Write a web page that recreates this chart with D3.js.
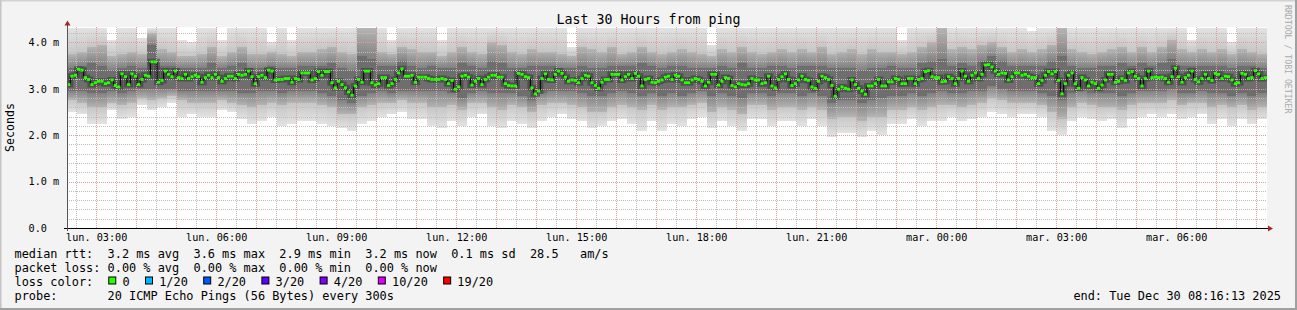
<!DOCTYPE html>
<html>
<head>
<meta charset="utf-8">
<script src="https://cdn.jsdelivr.net/npm/d3@7"></script>
<style>
body { margin: 0; background: #f3f3f3; }
text { font-family: "DejaVu Sans Mono", monospace; fill: #000; white-space: pre; }
</style>
</head>
<body>
<svg id="chart" width="1297" height="310"></svg>
<script>
// ---- data ----
var title = "Last 30 Hours from ping"
var yTitle = "Seconds"
var watermark = "RRDTOOL / TOBI OETIKER"
var endTime = new Date(2025, 11, 30, 8, 16, 13)
var spanHours = 30
var stepSec = 300          // one median every 5 min
var smokeStepSec = 900     // smoke read every 15 min

// median rtt in ms, one per step
var median = [
 3.09,3.27,3.29,3.42,3.40,3.24,3.20,3.09,3.13,3.16, 3.16,3.11,3.13,3.19,3.07,3.04,3.32,3.26,3.09,3.32,
 3.27,3.09,3.20,3.29,3.27,3.58,3.58,3.14,3.18,3.38, 3.31,3.26,3.38,3.24,3.22,3.31,3.22,3.26,3.29,3.26,
 3.14,3.24,3.29,3.24,3.31,3.24,3.16,3.22,3.27,3.27, 3.22,3.31,3.29,3.31,3.38,3.26,3.11,3.26,3.29,3.24,
 3.40,3.38,3.19,3.20,3.20,3.22,3.22,3.14,3.22,3.20, 3.34,3.34,
 3.34,3.19,3.22,3.37,3.29,3.37,3.37,3.13,3.02,3.16, 3.09,3.02,2.93,2.86,3.06,3.20,3.14,3.38,3.38,3.13,
 3.08,3.11,3.24,3.24,3.07,3.11,3.20,3.34,3.43,3.27, 3.27,3.29,3.14,3.25,3.25,3.25,3.22,3.20,3.20,3.20,
 3.22,3.20,3.11,3.18,2.99,3.04,3.27,3.29,3.25,3.08, 3.16,3.22,3.09,3.20,3.25,3.29,3.29,3.25,3.25,3.11,
 3.07,3.06,3.06,3.33,3.31,3.26,3.24,3.02,2.89,2.95, 3.22,3.32,
 3.20,3.19,3.31,3.38,3.33,3.25,3.16,3.19,3.18,3.13, 3.22,3.29,3.27,3.13,3.07,3.01,3.14,3.20,3.20,3.31,
 3.31,3.31,3.19,3.26,3.31,3.22,3.33,3.27,3.06,3.20, 3.22,3.14,3.13,3.16,3.19,3.25,3.27,3.20,3.29,3.27,
 3.19,3.13,3.13,3.19,3.22,3.20,3.16,3.06,3.14,3.31, 3.31,3.08,3.16,3.24,3.22,3.07,3.04,3.11,3.09,3.08,
 3.11,3.22,3.19,3.19,3.11,3.13,3.27,3.06,3.02,3.20, 3.26,3.32,
 3.20,3.07,3.11,3.19,3.27,3.20,3.18,3.04,3.01,3.16, 3.27,3.24,3.20,3.07,2.84,2.99,3.04,3.01,2.99,3.19,
 3.09,3.01,2.95,2.88,3.06,3.06,3.11,3.20,3.06,3.06, 3.15,3.15,3.22,3.20,3.11,3.11,3.22,3.22,3.11,3.20,
 3.22,3.37,3.39,3.26,3.24,3.24,3.15,3.16,3.26,3.22, 3.11,3.22,3.38,3.27,3.16,3.29,3.34,3.22,3.31,3.51,
 3.52,3.47,3.38,3.31,3.34,3.33,3.19,3.26,3.34,3.34, 3.29,3.31,
 3.27,3.24,3.24,3.11,3.18,3.29,3.37,3.32,3.37,3.18, 2.89,3.11,3.29,3.34,3.11,3.01,3.24,3.19,3.06,3.14,
 3.11,3.01,3.08,3.19,3.31,3.31,3.14,3.16,3.22,3.18, 3.34,3.37,3.27,3.22,3.06,3.22,3.38,3.24,3.25,3.24,
 3.25,3.22,3.14,3.26,3.44,3.26,3.14,3.24,3.29,3.38, 3.20,3.15,3.22,3.31,3.22,3.18,3.33,3.31,3.22,3.27,
 3.26,3.19,3.11,3.13,3.33,3.31,3.22,3.24,3.39,3.32, 3.22,3.24
]

// smoke band edges in ms (outer light band hi/lo, middle band h2/l2, dark band h3/l3)
var smokeHi = [
 4.3,4.3,4.3,4.3,4.05,4.3,4.3,4.1,4.3,4.3,4.3,4.05,4.0,4.3,4.3,4.05,4.3,4.3,4.3,4.3,4.0,4.3,4.05,4.3,
 4.3,4.3,4.3,4.3,4.3,4.3,4.3,4.3,4.05,4.3,4.3,4.3,4.3,4.05,4.3,4.3,4.3,4.3,4.3,4.3,4.3,4.3,4.3,4.3,
 4.3,4.3,3.9,4.3,4.3,4.3,4.3,4.3,4.3,4.3,4.3,4.3,4.3,4.3,4.3,4.3,3.95,4.3,4.3,4.3,4.3,4.3,4.3,4.3,
 4.3,4.3,4.3,4.3,4.3,4.3,4.3,4.3,4.3,4.3,4.3,4.05,4.3,4.3,4.3,4.3,4.3,4.3,4.3,4.3,4.3,4.3,4.3,4.3,
 4.25,4.3,4.3,4.3,4.3,4.3,4.3,4.3,4.3,4.3,4.3,4.3,4.3,4.3,4.3,4.3,4.05,4.3,4.3,4.3,4.0,4.3,4.3,4.3
]
var smokeH2 = [
 3.75,3.8,3.9,3.95,3.7,3.75,3.8,3.75,4.2,3.85,3.8,3.7,3.7,3.75,3.9,3.7,3.8,3.9,3.75,3.75,3.8,3.75,3.7,3.8,
 3.8,3.85,3.9,3.8,3.75,4.3,4.3,3.8,3.75,3.9,3.85,3.8,3.8,3.7,3.8,3.9,3.8,3.75,4.0,3.95,3.8,3.75,3.85,3.8,
 3.8,3.75,3.7,3.9,3.85,3.8,3.9,3.75,3.8,3.9,3.8,3.75,3.8,3.85,3.8,3.75,3.7,3.85,3.8,3.9,3.8,3.75,3.8,3.85,
 3.8,3.85,3.8,3.9,3.75,3.8,3.85,3.75,3.85,3.8,3.8,3.75,3.8,3.9,4.0,4.3,3.85,3.9,3.85,3.95,4.0,3.9,3.8,3.85,
 3.8,3.85,3.95,4.3,3.85,3.8,3.75,3.8,3.85,3.9,3.8,3.9,3.8,3.9,4.05,3.85,3.8,3.85,3.8,3.85,3.75,3.85,3.8,3.75
]
var smokeH3 = [
 3.45,3.5,3.55,3.5,3.4,3.45,3.5,3.45,3.95,3.5,3.5,3.45,3.45,3.45,3.55,3.45,3.5,3.55,3.45,3.45,3.5,3.45,3.45,3.5,
 3.5,3.5,3.55,3.45,3.4,3.7,3.65,3.5,3.5,3.6,3.5,3.45,3.5,3.45,3.45,3.55,3.5,3.45,3.6,3.55,3.45,3.45,3.5,3.5,
 3.5,3.45,3.45,3.5,3.45,3.45,3.5,3.5,3.5,3.55,3.5,3.45,3.5,3.5,3.45,3.45,3.45,3.5,3.45,3.55,3.45,3.45,3.5,3.5,
 3.45,3.5,3.5,3.5,3.45,3.45,3.45,3.4,3.45,3.45,3.5,3.45,3.45,3.55,3.6,3.65,3.5,3.55,3.5,3.6,3.7,3.6,3.5,3.5,
 3.5,3.5,3.6,3.7,3.5,3.45,3.45,3.5,3.5,3.55,3.5,3.55,3.5,3.55,3.65,3.5,3.5,3.5,3.5,3.5,3.45,3.5,3.5,3.45
]
var smokeL3 = [
 2.95,2.95,2.9,2.9,2.95,2.9,2.95,3.0,3.0,3.0,3.0,2.95,2.95,2.95,2.95,2.95,2.95,2.9,2.9,2.95,2.95,2.9,2.95,2.95,
 2.95,2.9,2.85,2.75,2.7,2.85,2.9,2.95,2.9,2.95,2.95,2.95,2.95,2.95,2.9,2.8,2.9,2.95,2.9,2.9,2.9,2.85,2.75,2.9,
 2.95,2.95,2.95,2.9,2.85,2.85,2.9,2.95,2.9,2.85,2.9,2.85,2.9,2.85,2.9,2.95,2.85,2.9,2.85,2.8,2.9,2.9,2.85,2.9,
 2.9,2.85,2.9,2.85,2.7,2.75,2.75,2.7,2.75,2.8,2.85,2.85,2.9,2.85,2.9,2.95,2.9,2.9,2.95,2.95,3.05,3.0,2.95,2.95,
 2.95,2.9,2.85,2.75,2.9,2.95,2.9,2.9,2.9,2.85,2.9,2.95,2.95,2.95,3.0,2.9,2.9,2.95,2.9,2.9,2.85,2.9,2.85,2.9
]
var smokeL2 = [
 2.75,2.7,2.6,2.6,2.7,2.65,2.7,2.8,2.75,2.8,2.85,2.75,2.7,2.7,2.7,2.75,2.7,2.65,2.6,2.65,2.7,2.65,2.7,2.7,
 2.7,2.65,2.6,2.45,2.45,2.6,2.65,2.7,2.7,2.75,2.7,2.7,2.6,2.6,2.65,2.55,2.7,2.7,2.6,2.55,2.65,2.6,2.5,2.65,
 2.7,2.7,2.65,2.6,2.5,2.5,2.6,2.65,2.6,2.55,2.65,2.55,2.6,2.6,2.65,2.7,2.5,2.6,2.55,2.45,2.65,2.65,2.55,2.6,
 2.6,2.55,2.6,2.55,2.35,2.4,2.4,2.3,2.4,2.4,2.55,2.55,2.6,2.55,2.6,2.65,2.65,2.6,2.65,2.7,2.8,2.75,2.7,2.7,
 2.7,2.65,2.5,2.35,2.6,2.7,2.65,2.6,2.6,2.55,2.65,2.7,2.7,2.7,2.75,2.65,2.7,2.7,2.6,2.65,2.6,2.65,2.55,2.6
]
var smokeLo = [
 2.5,2.45,2.25,2.25,2.55,2.35,2.4,2.65,2.55,2.6,2.7,2.4,2.45,2.4,2.4,2.55,2.5,2.35,2.25,2.3,2.4,2.2,2.25,2.3,
 2.3,2.25,2.2,2.15,2.1,2.25,2.3,2.4,2.45,2.5,2.35,2.35,2.2,2.15,2.3,2.2,2.4,2.45,2.2,2.15,2.3,2.25,2.15,2.3,
 2.4,2.45,2.35,2.3,2.15,2.2,2.3,2.35,2.25,2.1,2.3,2.1,2.25,2.2,2.35,2.4,2.15,2.3,2.2,2.1,2.35,2.35,2.2,2.3,
 2.3,2.2,2.35,2.2,1.95,2.05,2.05,1.95,2.1,2.0,2.25,2.25,2.35,2.2,2.3,2.3,2.4,2.3,2.35,2.4,2.5,2.45,2.4,2.45,
 2.45,2.4,2.1,2.0,2.3,2.4,2.35,2.3,2.35,2.15,2.35,2.4,2.45,2.4,2.45,2.35,2.4,2.45,2.25,2.35,2.2,2.35,2.25,2.35
]

var yTicks = [0, 1, 2, 3, 4]
var yTickLabels = ["0.0", "1.0 m", "2.0 m", "3.0 m", "4.0 m"]
var frShortDays = ["dim.", "lun.", "mar.", "mer.", "jeu.", "ven.", "sam."]

var statLines = [
  "median rtt:  3.2 ms avg  3.6 ms max  2.9 ms min  3.2 ms now  0.1 ms sd  28.5   am/s",
  "packet loss: 0.00 % avg  0.00 % max  0.00 % min  0.00 % now",
  "loss color:",
  "probe:       20 ICMP Echo Pings (56 Bytes) every 300s"
]
var lossLabels = ["0", "1/20", "2/20", "3/20", "4/20", "10/20", "19/20"]
var lossColors = ["#26ff00", "#00b8ff", "#0059ff", "#5e00ff", "#7e00ff", "#dd00ff", "#ff0000"]
var endLabel = "end: Tue Dec 30 08:16:13 2025"

// ---- layout ----
var W = 1297, H = 310
var plot = {left: 67, right: 1267, top: 27, bottom: 228}
var startTime = new Date(endTime.getTime() - spanHours * 3600 * 1000)
var cw = 7.15  // legend char width

var svg = d3.select("#chart")
var defs = svg.append("defs")

// frame
svg.append("rect").attr("x", 0).attr("y", 0).attr("width", W).attr("height", H).attr("fill", "#f3f3f3")
svg.append("rect").attr("x", 0).attr("y", 0).attr("width", W).attr("height", 1.5).attr("fill", "#d2d2d2")
svg.append("rect").attr("x", 0).attr("y", 0).attr("width", 1.5).attr("height", H).attr("fill", "#c4c4c4")
svg.append("rect").attr("x", 0).attr("y", H - 2).attr("width", W).attr("height", 2).attr("fill", "#a0a0a0")
svg.append("rect").attr("x", W - 2).attr("y", 0).attr("width", 2).attr("height", H).attr("fill", "#a0a0a0")

var x = d3.scaleTime().domain([startTime, endTime]).range([plot.left, plot.right])
var y = d3.scaleLinear().domain([0, 4.33]).range([plot.bottom, plot.top])

defs.append("clipPath").attr("id", "plotclip")
  .append("rect").attr("x", plot.left).attr("y", plot.top)
  .attr("width", plot.right - plot.left).attr("height", plot.bottom - plot.top)

// vertical shade ramps for the smoke bands (top colour, bottom colour)
var ramps = {
  upOuter: ["#e2e2e2", "#c6c6c6"],
  upMid:   ["#b4b4b4", "#828282"],
  inner:   ["#6e6e6e", "#6e6e6e"],
  loMid:   ["#828282", "#b4b4b4"],
  loOuter: ["#c6c6c6", "#e2e2e2"]
}
Object.keys(ramps).forEach(function(k){
  var lg = defs.append("linearGradient").attr("id", "r_" + k).attr("x1", 0).attr("x2", 0).attr("y1", 0).attr("y2", 1)
  lg.append("stop").attr("offset", "0%").attr("stop-color", ramps[k][0])
  lg.append("stop").attr("offset", "100%").attr("stop-color", ramps[k][1])
})

svg.append("rect").attr("x", plot.left).attr("y", plot.top)
  .attr("width", plot.right - plot.left).attr("height", plot.bottom - plot.top).attr("fill", "#ffffff")

var g = svg.append("g").attr("clip-path", "url(#plotclip)")

// smoke
var smoke = smokeHi.map(function(d, i){
  return {t0: new Date(startTime.getTime() + i * smokeStepSec * 1000),
          t1: new Date(startTime.getTime() + (i + 1) * smokeStepSec * 1000),
          hi: d, h2: smokeH2[i], h3: smokeH3[i], l3: smokeL3[i], l2: smokeL2[i], lo: smokeLo[i]}
})
var bands = [["hi", "h2", "upOuter"], ["h2", "h3", "upMid"], ["h3", "l3", "inner"],
             ["l3", "l2", "loMid"], ["l2", "lo", "loOuter"]]
bands.forEach(function(b){
  g.append("g").selectAll("rect").data(smoke).enter().append("rect")
    .attr("x", d => x(d.t0))
    .attr("width", d => x(d.t1) - x(d.t0) + 0.3)
    .attr("y", d => y(d[b[0]]))
    .attr("height", d => Math.max(0, y(d[b[1]]) - y(d[b[0]])))
    .attr("fill", "url(#r_" + b[2] + ")")
    .attr("shape-rendering", "crispEdges")
})

var med = median.map(function(d, i){
  return {t0: new Date(startTime.getTime() + i * stepSec * 1000),
          t1: new Date(startTime.getTime() + (i + 1) * stepSec * 1000), v: d}
})
var stepPts = med.map(d => [d.t0, d.v]).concat([[med[med.length - 1].t1, med[med.length - 1].v]])
var stepLine = d3.line().x(d => x(d[0])).y(d => y(d[1])).curve(d3.curveStepAfter)

// dark core of the smoke around the median
g.append("path").attr("d", stepLine(stepPts)).attr("fill", "none")
  .attr("stroke", "#2a2a2a").attr("stroke-opacity", 0.45).attr("stroke-width", 6)

// grid
var minorX = d3.timeMinute.every(30).range(startTime, endTime)
var majorX = d3.timeHour.every(1).range(startTime, endTime)
var minorY = d3.range(0, 4.4, 0.2)
g.append("g").selectAll("line").data(minorX).enter().append("line")
  .attr("x1", d => Math.round(x(d)) + 0.5).attr("x2", d => Math.round(x(d)) + 0.5)
  .attr("y1", plot.top).attr("y2", plot.bottom)
  .attr("stroke", "#bdbdbd").attr("stroke-dasharray", "1,1")
g.append("g").selectAll("line").data(minorY).enter().append("line")
  .attr("y1", d => Math.round(y(d)) + 0.5).attr("y2", d => Math.round(y(d)) + 0.5)
  .attr("x1", plot.left).attr("x2", plot.right)
  .attr("stroke", "#bdbdbd").attr("stroke-dasharray", "1,1")
g.append("g").selectAll("line").data(majorX).enter().append("line")
  .attr("x1", d => Math.round(x(d)) + 0.5).attr("x2", d => Math.round(x(d)) + 0.5)
  .attr("y1", plot.top).attr("y2", plot.bottom)
  .attr("stroke", "#e49a9a").attr("stroke-dasharray", "1,1")
g.append("g").selectAll("line").data(yTicks).enter().append("line")
  .attr("y1", d => Math.round(y(d)) + 0.5).attr("y2", d => Math.round(y(d)) + 0.5)
  .attr("x1", plot.left).attr("x2", plot.right)
  .attr("stroke", "#e49a9a").attr("stroke-dasharray", "1,1")

// median line: black connectors, green steps
g.append("path").attr("d", stepLine(stepPts)).attr("fill", "none")
  .attr("stroke", "#000").attr("stroke-width", 1)
g.append("g").selectAll("line").data(med).enter().append("line")
  .attr("x1", d => x(d.t0)).attr("x2", d => x(d.t1))
  .attr("y1", d => y(d.v)).attr("y2", d => y(d.v))
  .attr("stroke", lossColors[0]).attr("stroke-width", 2.8)

// axes
var fr = d3.timeFormatLocale({
  dateTime: "%A %e %B %Y à %X", date: "%d/%m/%Y", time: "%H:%M:%S", periods: ["AM", "PM"],
  days: ["dimanche", "lundi", "mardi", "mercredi", "jeudi", "vendredi", "samedi"],
  shortDays: frShortDays,
  months: ["janvier", "février", "mars", "avril", "mai", "juin", "juillet", "août", "septembre", "octobre", "novembre", "décembre"],
  shortMonths: ["janv.", "févr.", "mars", "avr.", "mai", "juin", "juil.", "août", "sept.", "oct.", "nov.", "déc."]
})
var xAxis = d3.axisBottom(x).ticks(d3.timeHour.every(3)).tickFormat(fr.format("%a %H:%M"))
  .tickSize(0).tickPadding(5.5)
var gx = svg.append("g").attr("transform", "translate(0," + plot.bottom + ")").call(xAxis)
gx.select(".domain").remove()
gx.selectAll("text").style("font-family", "DejaVu Sans Mono").style("font-size", "10.2px").attr("fill", "#000")

var yAxis = d3.axisLeft(y).tickValues(yTicks).tickFormat((d, i) => yTickLabels[i]).tickSize(0)
var gy = svg.append("g").attr("transform", "translate(" + plot.left + ",0)").call(yAxis)
gy.select(".domain").remove()
gy.selectAll("text").attr("x", -38.5).attr("text-anchor", "start")
  .style("font-family", "DejaVu Sans Mono").style("font-size", "10.2px").attr("fill", "#000")

// axis lines + arrows
svg.append("line").attr("x1", plot.left - 3).attr("x2", plot.right + 3)
  .attr("y1", plot.bottom + 0.5).attr("y2", plot.bottom + 0.5).attr("stroke", "#000")
svg.append("line").attr("x1", plot.left + 0.5).attr("x2", plot.left + 0.5)
  .attr("y1", plot.bottom + 3).attr("y2", plot.top - 3).attr("stroke", "#555")
svg.append("path").attr("d", "M" + (plot.right + 1) + "," + (plot.bottom - 2.5) + "L" + (plot.right + 6) + "," + (plot.bottom + 0.5) + "L" + (plot.right + 1) + "," + (plot.bottom + 3.5) + "Z")
  .attr("fill", "#a02828")
svg.append("path").attr("d", "M" + (plot.left - 2.5) + "," + (plot.top - 1.5) + "L" + (plot.left + 0.5) + "," + (plot.top - 6.5) + "L" + (plot.left + 3.5) + "," + (plot.top - 1.5) + "Z")
  .attr("fill", "#a02828")

// titles
svg.append("text").attr("x", W / 2).attr("y", 23.5)
  .attr("text-anchor", "middle").style("font-size", "13.3px").text(title)
svg.append("text").attr("transform", "translate(14," + ((plot.top + plot.bottom) / 2) + ") rotate(-90)")
  .attr("text-anchor", "middle").style("font-size", "11.6px").text(yTitle)
svg.append("text").attr("transform", "translate(1285,5) rotate(90)")
  .style("font-size", "8.2px").style("fill", "#aaaaaa").text(watermark)

// legend
var lx = 14.5, lineY = [257.5, 271.7, 285.9, 300.1]
statLines.forEach(function(s, i){
  svg.append("text").attr("x", lx).attr("y", lineY[i]).style("font-size", "11.9px").text(s)
})
var cursor = lx + 13 * cw + 0.8
lossLabels.forEach(function(l, i){
  svg.append("rect").attr("x", cursor + 0.5).attr("y", 277).attr("width", 7).attr("height", 7)
    .attr("fill", lossColors[i]).attr("stroke", "#000").attr("stroke-width", 1)
  var tx = cursor + 14.2
  svg.append("text").attr("x", tx).attr("y", lineY[2]).style("font-size", "11.9px").text(l)
  cursor = tx + l.length * cw + 15.4
})
svg.append("text").attr("x", 1281).attr("y", lineY[3]).attr("text-anchor", "end")
  .style("font-size", "11.9px").text(endLabel)
</script>
</body>
</html>
